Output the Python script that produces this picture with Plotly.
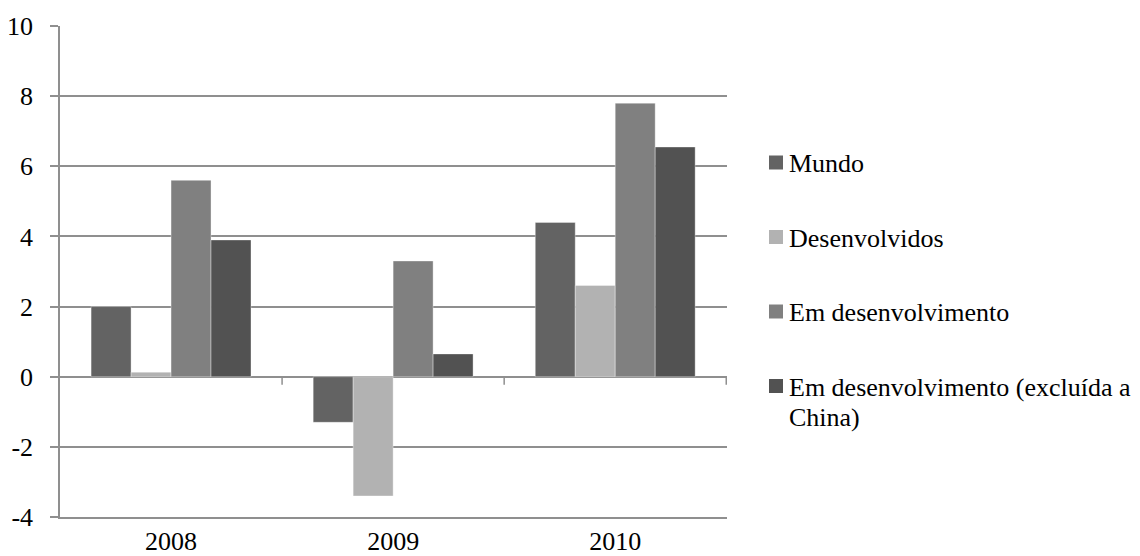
import plotly.graph_objects as go

# Categories and series values (annual growth, %)
years = ["2008", "2009", "2010"]
series_names = [
    "Mundo",
    "Desenvolvidos",
    "Em desenvolvimento",
    "Em desenvolvimento (excluída a<br>China)",
]
mundo = [2.0, -1.3, 4.4]
desenvolvidos = [0.13, -3.4, 2.6]
em_desenvolvimento = [5.6, 3.3, 7.8]
em_desenv_sem_china = [3.9, 0.65, 6.55]
y_tick_values = [-4, -2, 0, 2, 4, 6, 8, 10]
y_tick_labels = ["-4", "-2", "0", "2", "4", "6", "8", "10"]

series_values = [mundo, desenvolvidos, em_desenvolvimento, em_desenv_sem_china]
bar_colors = ["#636363", "#b2b2b2", "#808080", "#525252"]

FONT = "Liberation Serif"
FONT_SIZE = 26
GRID = "#8f8f8f"

W, H = 1140, 556
M_L, M_R, M_T, M_B = 60, 413, 26, 39
PLOT_W = W - M_L - M_R
PLOT_H = H - M_T - M_B


def px_to_paper_x(px):
    return (px - M_L) / PLOT_W


def px_to_paper_y(py):
    return (H - M_B - py) / PLOT_H


fig = go.Figure()
for name, vals, col in zip(series_names, series_values, bar_colors):
    fig.add_trace(
        go.Bar(
            x=years,
            y=vals,
            name=name.replace("<br>", " "),
            marker=dict(color=col, line=dict(color="rgba(255,255,255,0.45)", width=0.8)),
            showlegend=False,
        )
    )

shapes = []
# small downward ticks on the zero line at category boundaries
for b in [0.5, 1.5, 2.5]:
    shapes.append(
        dict(
            type="line", xref="x", yref="y", x0=b, x1=b,
            ysizemode="pixel", yanchor=0, y0=0, y1=-8,
            line=dict(color=GRID, width=1.5), layer="below",
        )
    )

# legend drawn at the right: colour key + wrapped label
annotations = []
legend_row_y = [162.5, 237.0, 311.5, 386.0]
key_x0, key_size = 769, 14
text_x = 787
line_step = 30.5
for name, col, ry in zip(series_names, bar_colors, legend_row_y):
    shapes.append(
        dict(
            type="rect", xref="paper", yref="paper",
            x0=px_to_paper_x(key_x0), x1=px_to_paper_x(key_x0 + key_size),
            y0=px_to_paper_y(ry + key_size / 2), y1=px_to_paper_y(ry - key_size / 2),
            fillcolor=col, line=dict(width=0),
        )
    )
    for i, line in enumerate(name.split("<br>")):
        annotations.append(
            dict(
                xref="paper", yref="paper",
                x=px_to_paper_x(text_x), y=px_to_paper_y(ry + 1 + i * line_step),
                xanchor="left", yanchor="middle",
                text=line, showarrow=False,
                font=dict(family=FONT, size=FONT_SIZE, color="#000000"),
            )
        )

fig.update_layout(
    width=W, height=H,
    margin=dict(l=M_L, r=M_R, t=M_T, b=M_B, pad=0, autoexpand=False),
    paper_bgcolor="white", plot_bgcolor="white",
    barmode="group", bargap=0.28, bargroupgap=0,
    font=dict(family=FONT, size=FONT_SIZE, color="#000000"),
    shapes=shapes, annotations=annotations,
    xaxis=dict(
        type="category", showgrid=False, automargin=False,
        showline=True, linecolor=GRID, linewidth=1.5,
        ticks="", ticklabelstandoff=0,
        tickfont=dict(family=FONT, size=FONT_SIZE, color="#000000"),
        fixedrange=True,
    ),
    yaxis=dict(
        range=[-4, 10], tickvals=y_tick_values, ticktext=y_tick_labels,
        automargin=False,
        showgrid=True, gridcolor=GRID, gridwidth=1.5,
        zeroline=True, zerolinecolor=GRID, zerolinewidth=1.5,
        showline=True, linecolor=GRID, linewidth=1.5,
        ticks="outside", ticklen=8, tickcolor=GRID, tickwidth=1.5,
        ticklabelstandoff=12,
        tickfont=dict(family=FONT, size=FONT_SIZE, color="#000000"),
        fixedrange=True,
    ),
)

fig.write_html("out.html")
